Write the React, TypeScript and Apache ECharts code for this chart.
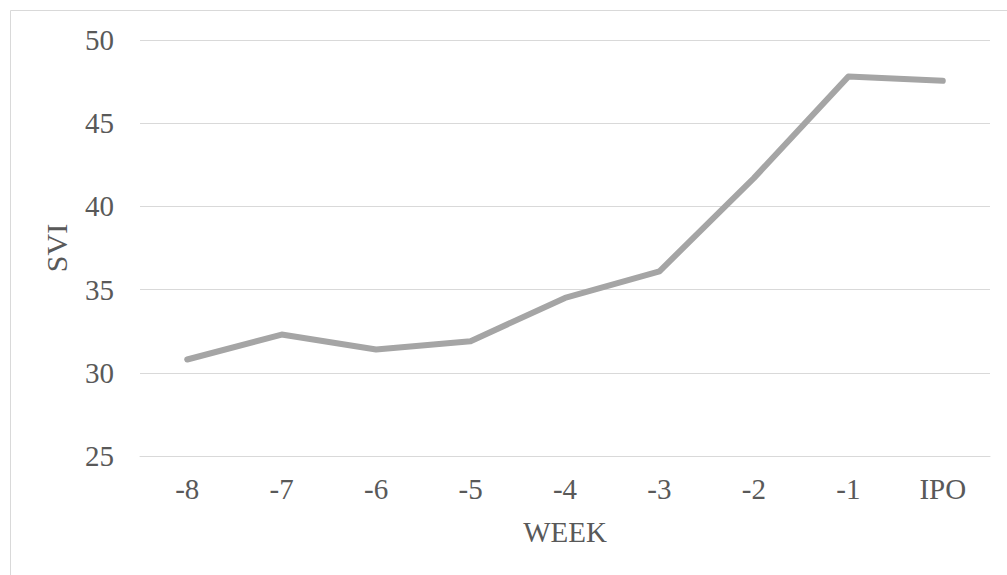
import React, { useEffect, useRef } from "react";
import * as echarts from "echarts";

const categories = ["-8", "-7", "-6", "-5", "-4", "-3", "-2", "-1", "IPO"];
const sviValues = [30.8, 32.3, 31.4, 31.9, 34.5, 36.1, 41.7, 47.8, 47.55];
const yMin = 25;
const yMax = 50;
const yInterval = 5;

const FONT = "'Liberation Serif', 'Times New Roman', serif";
const TEXT = "#595959";

export default function App() {
  const ref = useRef<HTMLDivElement>(null);
  useEffect(() => {
    if (!ref.current) return;
    const chart = echarts.init(ref.current, undefined, { renderer: "svg" });
    chart.setOption({
      animation: false,
      backgroundColor: "#ffffff",
      graphic: [
        {
          type: "rect",
          shape: { x: 10.5, y: 10.5, width: 1010, height: 600 },
          style: { fill: "none", stroke: "#d9d9d9", lineWidth: 1 },
          silent: true,
        },
      ],
      grid: { left: 140, right: 17, top: 40, bottom: 119 },
      xAxis: {
        type: "category",
        data: categories,
        boundaryGap: true,
        axisLine: { show: true, lineStyle: { color: "#d9d9d9", width: 1 } },
        axisTick: { show: false },
        axisLabel: { color: TEXT, fontSize: 29, fontFamily: FONT, margin: 18 },
        name: "WEEK",
        nameLocation: "middle",
        nameGap: 61,
        nameTextStyle: { color: TEXT, fontSize: 29, fontFamily: FONT },
      },
      yAxis: {
        type: "value",
        min: yMin,
        max: yMax,
        interval: yInterval,
        axisLine: { show: false },
        axisTick: { show: false },
        splitLine: { lineStyle: { color: "#d9d9d9", width: 1 } },
        axisLabel: { color: TEXT, fontSize: 29, fontFamily: FONT, margin: 26 },
        name: "SVI",
        nameLocation: "middle",
        nameGap: 69,
        nameTextStyle: { color: TEXT, fontSize: 30, fontFamily: FONT },
      },
      series: [
        {
          type: "line",
          data: sviValues,
          showSymbol: false,
          symbol: "none",
          lineStyle: { color: "#a5a5a5", width: 6, cap: "round", join: "round" },
        },
      ],
    });
    return () => chart.dispose();
  }, []);
  return (
    <div
      ref={ref}
      style={{ position: "fixed", left: 0, top: 0, width: 1007, height: 575, background: "#fff" }}
    />
  );
}
